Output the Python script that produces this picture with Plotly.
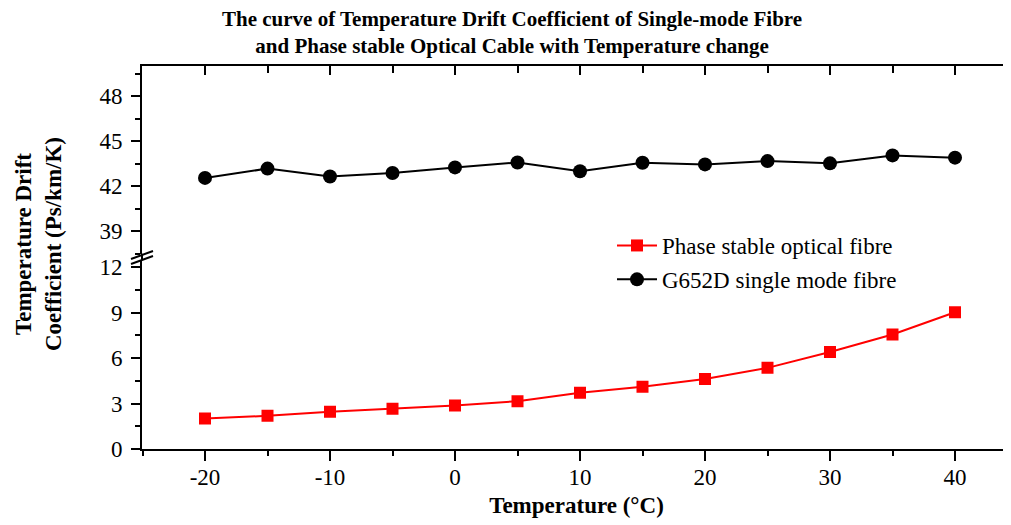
import plotly.graph_objects as go

temperature = [-20, -15, -10, -5, 0, 5, 10, 15, 20, 25, 30, 35, 40]
phase_stable = [2.02, 2.19, 2.46, 2.66, 2.88, 3.16, 3.71, 4.11, 4.63, 5.36, 6.41, 7.56, 9.03]
g652d = [42.55, 43.17, 42.64, 42.88, 43.25, 43.58, 42.99, 43.56, 43.45, 43.67, 43.52, 44.05, 43.90]
x_ticks = [-20, -10, 0, 10, 20, 30, 40]
x_tick_text = ["-20", "-10", "0", "10", "20", "30", "40"]

FONT = "Liberation Serif"
OFF = 8  # page body margin
W, H = 1011, 525 - OFF
ML, MR, MT, MB = 142 - OFF, OFF, 66 - OFF, 76
PW, PH = W - ML - MR, H - MT - MB

lower_dom = [0, 0.4941]
upper_dom = [0.5097, 1]


def px_x(p):
    return (p - OFF - ML) / PW


def px_y(p):
    return (H - MB - (p - OFF)) / PH


fig = go.Figure()
fig.add_trace(go.Scatter(
    x=temperature, y=phase_stable, mode="lines+markers", name="Phase stable optical fibre",
    legendgroup="a",
    line=dict(color="#ff0000", width=2), marker=dict(symbol="square", size=12, color="#ff0000"),
    xaxis="x", yaxis="y"))
fig.add_trace(go.Scatter(
    x=temperature, y=g652d, mode="lines+markers", name="G652D single mode fibre",
    legendgroup="b",
    line=dict(color="black", width=2), marker=dict(symbol="circle", size=14, color="black"),
    xaxis="x", yaxis="y2"))
fig.add_trace(go.Scatter(x=[], y=[], xaxis="x3", yaxis="y2", showlegend=False, hoverinfo="skip"))

x0 = -20 - (205 - 142) / 12.5
xr = [x0, x0 + PW / 12.5]
tickfont = dict(family=FONT, size=23, color="black")

fig.update_layout(
    width=W, height=H, margin=dict(l=ML, r=MR, t=MT, b=MB, autoexpand=False),
    paper_bgcolor="white", plot_bgcolor="white",
    xaxis=dict(range=xr, domain=[0, 1], anchor="y", tickvals=x_ticks, ticktext=x_tick_text,
               ticks="outside", ticklen=10, tickwidth=2, tickcolor="black",
               minor=dict(dtick=5, tick0=0, ticks="outside", ticklen=5, tickwidth=2, tickcolor="black"),
               showline=True, linewidth=2, linecolor="black", showgrid=False, zeroline=False,
               tickfont=tickfont, ticklabelstandoff=-4,
               title=dict(text="<b>Temperature (°C)</b>", font=dict(family=FONT, size=23, color="black"), standoff=8)),
    xaxis3=dict(range=xr, overlaying="x", anchor="y2", side="top", tickvals=x_ticks,
                showticklabels=False, ticks="inside", ticklen=9, tickwidth=2, tickcolor="black",
                minor=dict(dtick=5, tick0=0, ticks="inside", ticklen=7, tickwidth=2, tickcolor="black"),
                showline=True, linewidth=2, linecolor="black", showgrid=False, zeroline=False),
    yaxis=dict(range=[0, 12.5], domain=lower_dom, anchor="x", dtick=3, tick0=0,
               ticks="outside", ticklen=9, tickwidth=2, tickcolor="black",
               minor=dict(dtick=1.5, tick0=0, ticks="outside", ticklen=5, tickwidth=2, tickcolor="black"),
               showline=True, linewidth=2, linecolor="black", showgrid=False, zeroline=False,
               tickfont=tickfont, ticklabelstandoff=4),
    yaxis2=dict(range=[37.5, 50], domain=upper_dom, anchor="x", dtick=3, tick0=0,
                ticks="outside", ticklen=9, tickwidth=2, tickcolor="black",
                minor=dict(dtick=1.5, tick0=0, ticks="outside", ticklen=5, tickwidth=2, tickcolor="black"),
                showline=True, linewidth=2, linecolor="black", showgrid=False, zeroline=False,
                tickfont=tickfont, ticklabelstandoff=4),
    legend=dict(x=px_x(612), y=px_y(224), xanchor="left", yanchor="top",
                bgcolor="rgba(0,0,0,0)", font=dict(family=FONT, size=23, color="black"),
                tracegroupgap=1, itemwidth=40),
    showlegend=True,
)

# chart title (two lines)
fig.add_annotation(text="<b>The curve of Temperature Drift Coefficient of Single-mode Fibre<br>"
                        "and Phase stable Optical Cable with Temperature change</b>",
                   xref="paper", yref="paper", x=px_x(512), y=px_y(33), showarrow=False,
                   xanchor="center", yanchor="middle", align="center",
                   font=dict(family=FONT, size=21, color="black"))

# y-axis title (shared by both broken segments)
fig.add_annotation(text="<b>Temperature Drift<br>Coefficient (Ps/km/K)</b>", xref="paper", yref="paper",
                   x=px_x(38), y=px_y(244), textangle=-90, showarrow=False,
                   font=dict(family=FONT, size=23, color="black"), xanchor="center", yanchor="middle")

# axis line through the break gap and the break marks
fig.add_shape(type="line", xref="paper", yref="paper", x0=0, x1=0, y0=lower_dom[1], y1=upper_dom[0],
              line=dict(color="black", width=2))
for dy in (0, 5):
    fig.add_shape(type="line", xref="paper", yref="paper",
                  x0=px_x(131), y0=px_y(259 + dy), x1=px_x(153), y1=px_y(251 + dy),
                  line=dict(color="black", width=2))

fig.write_html("out.html")
